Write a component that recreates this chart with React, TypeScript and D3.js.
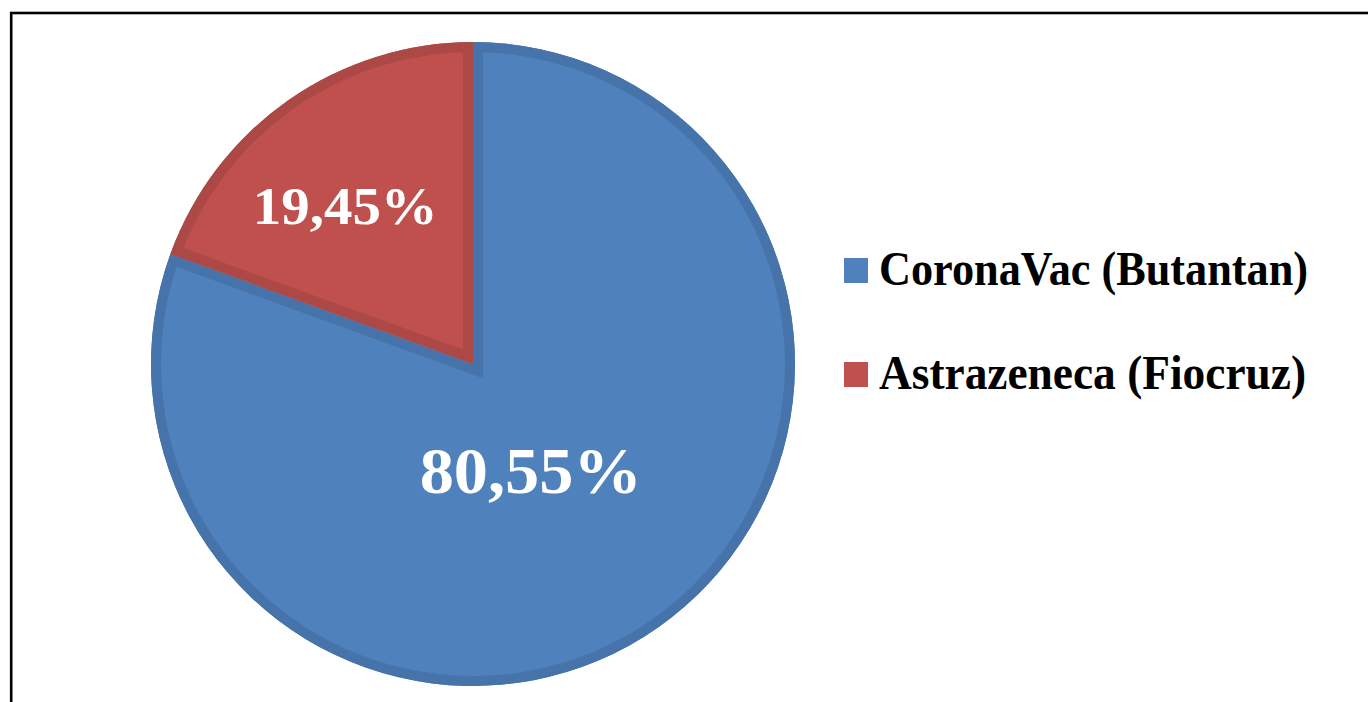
import * as d3 from "d3";

// vaccine share (percent)
const categories = ["CoronaVac (Butantan)", "Astrazeneca (Fiocruz)"];
const shares = [80.55, 19.45];
const labels = ["80,55%", "19,45%"];
const fills = ["#4F81BD", "#C0504D"];
const edges = ["#4674AA", "#AC4845"];

const W = 1368;
const H = 702;
const cx = 473;
const cy = 364;
const radius = 322;
const font = "'Liberation Serif', 'DejaVu Serif', serif";

// label placement inside each slice: [angle shift (rad), radius fraction, font size, text width]
const labelLayout = [
  [0.12, 0.38, 65, 222],
  [-0.07, 0.63, 53, 185],
];

const App = () => {
  // blue runs clockwise from 12 o'clock, red fills the rest
  const arcs = d3
    .pie<number>()
    .sort(null)
    .value((d) => d)(shares);

  const arc = d3.arc<d3.PieArcDatum<number>>().innerRadius(0).outerRadius(radius);

  const legendY = d3.scalePoint<string>().domain(categories).range([270, 374]);

  return (
    <div style={{ position: "absolute", left: 0, top: 0 }}>
      <svg width={W} height={H} style={{ display: "block", background: "#fff" }}>
        <defs>
          {arcs.map((a, i) => (
            <clipPath id={`clip-${i}`} key={i}>
              <path d={arc(a)!} />
            </clipPath>
          ))}
        </defs>
        <rect x={11.2} y={13} width={1500} height={900} fill="none" stroke="#000" strokeWidth={2.6} />
        <g transform={`translate(${cx},${cy})`}>
          {arcs.map((a, i) => (
            <g key={i}>
              <path d={arc(a)!} fill={fills[i]} />
              <path
                d={arc(a)!}
                fill="none"
                stroke={edges[i]}
                strokeWidth={20}
                strokeLinejoin="miter"
                clipPath={`url(#clip-${i})`}
              />
            </g>
          ))}
          {arcs.map((a, i) => {
            const [shift, frac, size, tw] = labelLayout[i];
            const ang = (a.startAngle + a.endAngle) / 2 + shift;
            const r = radius * frac;
            const x = r * Math.sin(ang);
            const y = -r * Math.cos(ang);
            return (
              <text
                key={i}
                x={x}
                y={y}
                dy="0.33em"
                textAnchor="middle"
                fill="#fff"
                fontFamily={font}
                fontWeight="bold"
                fontSize={size}
                textLength={tw}
                lengthAdjust="spacingAndGlyphs"
              >
                {labels[i]}
              </text>
            );
          })}
        </g>
        {categories.map((c, i) => (
          <g key={c} transform={`translate(844,${legendY(c)})`}>
            <rect x={0} y={-12} width={24} height={25} fill={fills[i]} />
            <text
              x={35}
              y={15}
              fontFamily={font}
              fontWeight="bold"
              fontSize={49}
              fill="#000"
              textLength={i === 0 ? 429 : 427}
              lengthAdjust="spacingAndGlyphs"
            >
              {c}
            </text>
          </g>
        ))}
      </svg>
    </div>
  );
};

export default App;
